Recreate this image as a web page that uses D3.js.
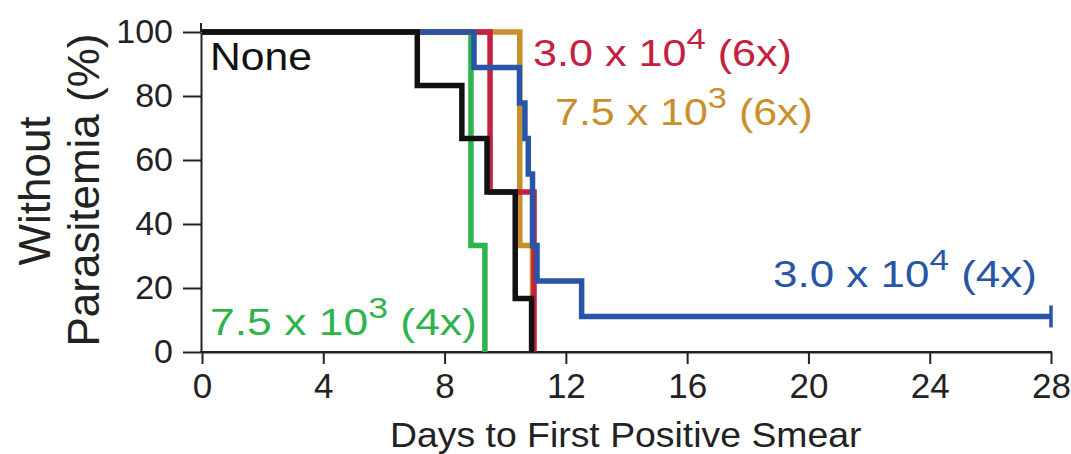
<!DOCTYPE html>
<html><head><meta charset="utf-8">
<script src="https://cdn.jsdelivr.net/npm/d3@7"></script>
<style>
body{margin:0;background:#fff}
svg{display:block}
text{font-family:"Liberation Sans",Arial,Helvetica,sans-serif}
</style>
</head><body>
<svg id="c" width="1071" height="454"></svg>
<script>
// ---------- data ----------
const xTicks = [0, 4, 8, 12, 16, 20, 24, 28];
const yTicks = [0, 20, 40, 60, 80, 100];
const xTitle = "Days to First Positive Smear";
const yTitleLines = ["Without", "Parasitemia (%)"];

// Kaplan-Meier steps: day of event, % without parasitemia after it
const greenDays = [0, 8.87, 9.33];
const greenPct = [100, 33.3, 0];
const orangeDays = [0, 10.48, 10.9];
const orangePct = [100, 33.3, 0];
const redDays = [0, 9.5, 10.95];
const redPct = [100, 50, 0];
const blueDays = [0, 8.97, 10.47, 10.65, 10.76, 10.9, 11.05, 12.52, 28];
const bluePct = [100, 88.9, 77.8, 66.7, 55.6, 33.3, 22.2, 11.1, 11.1];
const blackDays = [0, 7.1, 8.57, 9.4, 10.33, 10.87];
const blackPct = [100, 83.3, 66.7, 50, 16.7, 0];

const seriesNames = ["7.5 x 10^3 (4x)", "7.5 x 10^3 (6x)", "3.0 x 10^4 (6x)", "3.0 x 10^4 (4x)", "None"];
const seriesColors = ["#2fb34b", "#c98f2c", "#c42140", "#2855a6", "#111111"];
const seriesDays = [greenDays, orangeDays, redDays, blueDays, blackDays];
const seriesPct = [greenPct, orangePct, redPct, bluePct, blackPct];
const censoredDay = [null, null, null, 28, null];

// ---------- layout ----------
const svg = d3.select("#c");
const x = d3.scaleLinear().domain([0, 28]).range([202, 1051]);
const y = d3.scaleLinear().domain([0, 100]).range([352, 32]);

// axes
const xAxis = svg.append("g").attr("transform", `translate(0,${y(0)})`)
  .call(d3.axisBottom(x).tickValues(xTicks).tickSize(12).tickSizeOuter(0).tickPadding(9));
const yAxis = svg.append("g").attr("transform", `translate(201,0)`)
  .call(d3.axisLeft(y).tickValues(yTicks).tickSize(18).tickSizeOuter(0).tickPadding(10));
[xAxis, yAxis].forEach(a => {
  a.selectAll("path,line").attr("stroke", "#222").attr("stroke-width", 2);
  a.selectAll("text").attr("fill", "#222").attr("font-family", '"Liberation Sans",Arial,sans-serif');
});
xAxis.selectAll("text").attr("font-size", 35);
yAxis.selectAll("text").attr("font-size", 34);
// axis line extends a little above 100
yAxis.append("line").attr("x1", 0).attr("x2", 0).attr("y1", y(100)).attr("y2", y(100) - 9)
  .attr("stroke", "#222").attr("stroke-width", 2);
svg.append("line").attr("x1", 200).attr("x2", x(28) + 1).attr("y1", y(0)).attr("y2", y(0))
  .attr("stroke", "#222").attr("stroke-width", 2);

// curves
const line = d3.line().x(d => x(d[0])).y(d => y(d[1])).curve(d3.curveStepAfter);
seriesNames.forEach((name, i) => {
  const pts = seriesDays[i].map((d, j) => [d, seriesPct[i][j]]);
  svg.append("path").datum(pts).attr("d", line)
    .attr("fill", "none").attr("stroke", seriesColors[i]).attr("stroke-width", 5.5)
    .attr("stroke-linejoin", "miter").attr("stroke-linecap", "butt");
  if (censoredDay[i] !== null) {
    const last = seriesPct[i][seriesPct[i].length - 1];
    svg.append("line").attr("x1", x(censoredDay[i])).attr("x2", x(censoredDay[i]))
      .attr("y1", y(last) - 11).attr("y2", y(last) + 11)
      .attr("stroke", seriesColors[i]).attr("stroke-width", 3.5);
  }
});

// text helper: fits text horizontally into a target width
function fitText(parts, x0, baseline, size, width, color) {
  const t = svg.append("text").attr("font-size", size).attr("fill", color);
  const up = size * 0.45;
  parts.forEach(p => {
    const ts = t.append("tspan").text(p.s);
    if (p.sup) ts.attr("font-size", size * 0.8).attr("dy", -up);
    if (p.down) ts.attr("dy", up);
  });
  const w = t.node().getBBox().width;
  t.attr("transform", `translate(${x0},${baseline}) scale(${width / w},1)`);
  return t;
}
function labelParts(name) {
  const m = name.match(/^(.*)\^(\d)(.*)$/);
  if (!m) return [{s: name}];
  return [{s: m[1]}, {s: m[2], sup: true}, {s: m[3], down: true}];
}

// series labels
fitText(labelParts(seriesNames[4]), 210, 70, 39, 102, seriesColors[4]);
fitText(labelParts(seriesNames[2]), 533, 66, 37, 259, seriesColors[2]);
fitText(labelParts(seriesNames[1]), 555, 125, 37, 258, seriesColors[1]);
fitText(labelParts(seriesNames[0]), 210, 335, 37, 267, seriesColors[0]);
fitText(labelParts(seriesNames[3]), 773, 287, 37, 264, seriesColors[3]);

// axis titles
fitText([{s: xTitle}], 390, 447, 35, 472, "#222");
svg.append("text").attr("transform", "translate(50,191) rotate(-90)")
  .attr("text-anchor", "middle").attr("font-size", 44).attr("fill", "#222").text(yTitleLines[0]);
svg.append("text").attr("transform", "translate(99,190) rotate(-90)")
  .attr("text-anchor", "middle").attr("font-size", 44).attr("fill", "#222").text(yTitleLines[1]);
</script>
</body></html>
